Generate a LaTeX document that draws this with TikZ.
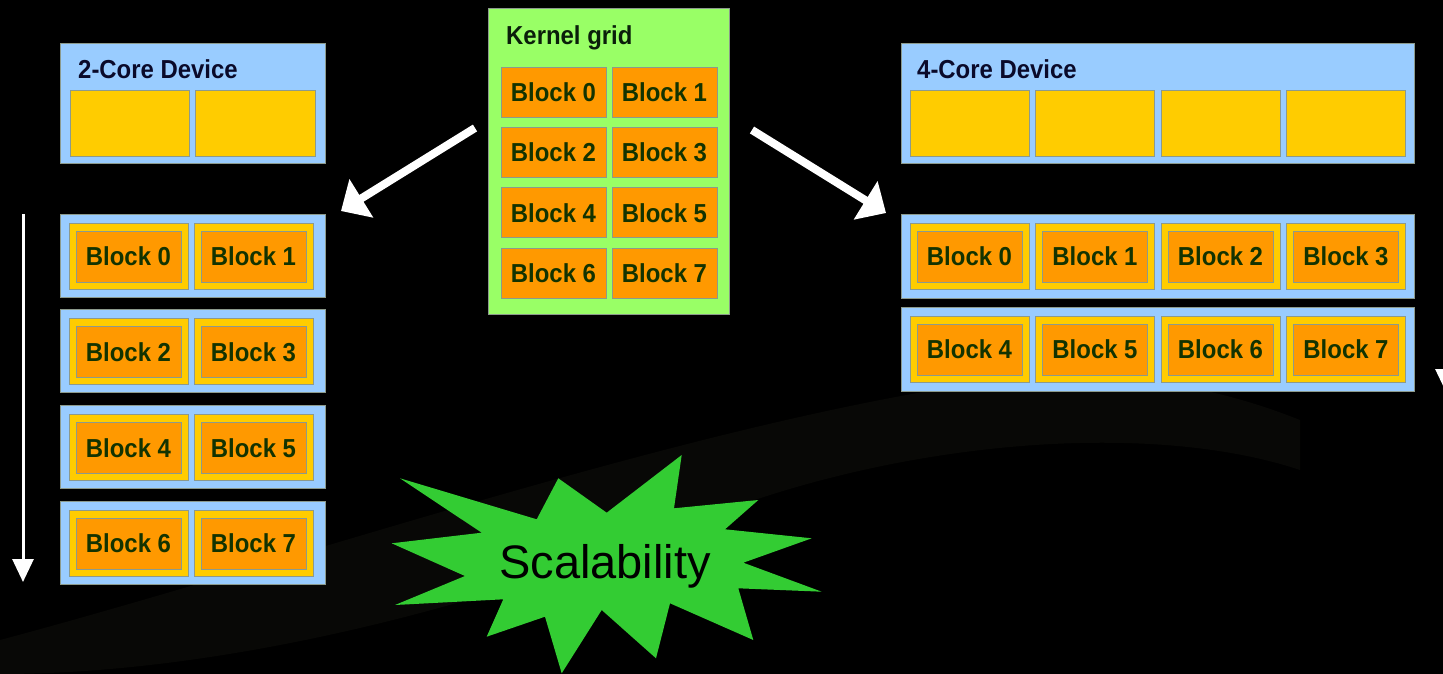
\documentclass[tikz,border=0pt]{standalone}
\usepackage{fontspec}
\newfontfamily\condbold[FakeStretch=0.92]{Liberation Sans Bold}
\newfontfamily\plainsans{Liberation Sans}
\usetikzlibrary{arrows.meta}
\definecolor{cblue}{HTML}{99CCFF}
\definecolor{cyellow}{HTML}{FFCC00}
\definecolor{corange}{HTML}{FF9900}
\definecolor{cgrid}{HTML}{99FF66}
\definecolor{cstar}{HTML}{33CC33}
\definecolor{ctext}{HTML}{133300}
\definecolor{ctitle}{HTML}{0A0A2A}
\definecolor{cktitle}{HTML}{0A1F0A}
\definecolor{cedge}{HTML}{8C9A8C}
\definecolor{bgfaint}{HTML}{080806}
\newcommand\rbox[7]{\node[#2, minimum width={((#5)-(#3))*1pt}, minimum height={((#6)-(#4))*1pt}] (#1) at ({((#3)+(#5))/2},{((#4)+(#6))/2}) {#7};}
\begin{document}
\begin{tikzpicture}[x=1pt,y=-1pt,
  base/.style={rectangle, inner sep=0pt, outer sep=0pt, line width=0.8pt, draw=cedge},
  devbox/.style={base, fill=cblue},
  rowbox/.style={base, fill=cblue},
  corebox/.style={base, fill=cyellow},
  gridbox/.style={base, fill=cgrid},
  blk/.style={base, fill=corange, text=ctext, font=\condbold\fontsize{26}{28}\selectfont},
  title/.style={anchor=base west, inner sep=0pt, font=\condbold\fontsize{26}{28}\selectfont},
  warrow/.style={draw=white, line width=8pt, -{Triangle[length=24pt,width=44pt]}},
  varrow/.style={draw=white, line width=3pt, -{Triangle[length=23pt,width=21pt]}}
]
\fill[black] (0,0) rectangle (1443,674);
\useasboundingbox (0,0) rectangle (1443,674);
% faint background swooshes
\fill[bgfaint] (0,640) .. controls (300,560) and (700,420) .. (1000,380) .. controls (1100,370) and (1200,380) .. (1300,420) -- (1300,470) .. controls (1150,420) and (900,440) .. (700,520) .. controls (450,620) and (200,674) .. (0,674) -- cycle;

% ---- 2-core device ----
\rbox{dev2}{devbox}{60}{43}{325}{163}{}
\node[title, text=ctitle] (dev2t) at (78,79) {2-Core Device};
\rbox{d2c0}{corebox}{70}{90}{189}{156}{}
\rbox{d2c1}{corebox}{195}{90}{315}{156}{}

\foreach \r in {0,...,3} {
  \pgfmathsetmacro\ty{214+95.7*\r}
  \rbox{Lrow\r}{rowbox}{60}{\ty}{325}{\ty+83}{}
  \foreach \c in {0,1} {
    \pgfmathsetmacro\cx{69+125*\c}
    \pgfmathtruncatemacro\bn{2*\r+\c}
    \rbox{Ly\r\c}{corebox}{\cx}{\ty+9}{\cx+119}{\ty+75}{}
    \rbox{Lb\bn}{blk}{\cx+7}{\ty+17}{\cx+112}{\ty+68}{Block \bn}
  }
}

% ---- kernel grid ----
\rbox{kg}{gridbox}{488}{8}{729}{314}{}
\node[title, text=cktitle] (kgt) at (506,45) {Kernel grid};
\foreach \r in {0,...,3} {
  \pgfmathsetmacro\ty{67+60.4*\r}
  \foreach \c in {0,1} {
    \pgfmathsetmacro\cx{501+111*\c}
    \pgfmathtruncatemacro\bn{2*\r+\c}
    \rbox{Kb\bn}{blk}{\cx}{\ty}{\cx+105}{\ty+50}{Block \bn}
  }
}

% ---- 4-core device ----
\rbox{dev4}{devbox}{901}{43}{1414}{163}{}
\node[title, text=ctitle] (dev4t) at (917,79) {4-Core Device};
\foreach \c in {0,...,3} {
  \pgfmathsetmacro\cx{910+125.5*\c}
  \rbox{d4c\c}{corebox}{\cx}{90}{\cx+119}{156}{}
}
\foreach \r in {0,1} {
  \pgfmathsetmacro\ty{214+93*\r}
  \rbox{Rrow\r}{rowbox}{901}{\ty}{1414}{\ty+84}{}
  \foreach \c in {0,...,3} {
    \pgfmathsetmacro\cx{910+125.5*\c}
    \pgfmathtruncatemacro\bn{4*\r+\c}
    \rbox{Ry\r\c}{corebox}{\cx}{\ty+9}{\cx+119}{\ty+75}{}
    \rbox{Rb\bn}{blk}{\cx+7}{\ty+17}{\cx+112}{\ty+68}{Block \bn}
  }
}

% ---- arrows ----
\coordinate (a1s) at (475,128);
\coordinate (a1e) at (341,211);
\coordinate (a2s) at (752,130);
\coordinate (a2e) at (886,213);
\draw[warrow] (a1s) -- (a1e);
\draw[warrow] (a2s) -- (a2e);
\coordinate (v1s) at (23,214);
\coordinate (v1e) at (23,582);
\draw[varrow] (v1s) -- (v1e);
\coordinate (v2s) at (1446,214);
\coordinate (v2e) at (1446,392);
\draw[varrow] (v2s) -- (v2e);

% ---- starburst ----
\fill[cstar] (400,478.3) -- (536.7,519.3) -- (558.3,478.3) -- (606.7,512.7) -- (681.7,455) -- (674,508.3) -- (758.3,500) -- (725,529.3) -- (811.7,538.3) -- (743.3,562.7) -- (821.7,591.7) -- (738.3,588.3) -- (753.3,640) -- (670,603.3) -- (656,658.3) -- (601.7,610) -- (561.7,673.3) -- (545,616.7) -- (486.7,636.7) -- (503.3,599.3) -- (395,605) -- (465,576) -- (391.7,543.3) -- (481.7,532.7) -- cycle;
\node[anchor=base, inner sep=0pt, font=\plainsans\fontsize{47}{50}\selectfont, text=black] (scal) at (605,578) {Scalability};
\end{tikzpicture}
\end{document}
